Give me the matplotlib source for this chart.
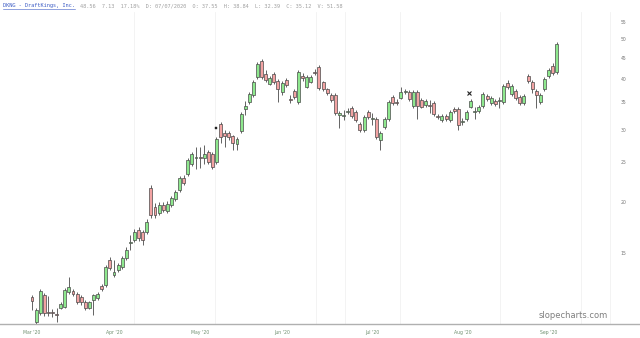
import matplotlib
matplotlib.use("Agg")
import matplotlib.pyplot as plt
from matplotlib.lines import Line2D
import numpy as np
import pandas as pd

# ---- data ----
opens = [11.74, 10.21, 10.73, 11.87, 10.79, 10.76, 10.64, 11.04, 11.10, 12.08,
         12.15, 11.94, 11.74, 11.42, 11.04, 11.55, 11.68, 12.49, 12.56, 14.45,
         13.29, 13.67, 13.90, 14.62, 15.90, 16.17, 17.10, 16.91, 16.91, 21.65,
         19.46, 18.82, 19.67, 19.02, 19.67, 20.35, 21.41, 22.90, 23.42, 24.77,
         25.62, 25.77, 25.62, 26.50, 26.20, 25.05, 31.00, 29.50, 29.48, 28.99,
         27.72, 29.82, 33.74, 35.09, 36.51, 40.39, 44.20, 41.08, 38.82, 41.08,
         39.49, 37.12, 39.72, 35.70, 37.33, 35.09, 40.60, 38.18, 39.27, 41.54,
         42.72, 39.27, 37.76, 36.51, 36.51, 32.63, 32.45, 33.20, 33.93, 33.18,
         31.00, 29.99, 33.18, 31.90, 31.90, 28.35, 30.50, 31.90, 36.09, 35.09,
         35.90, 37.12, 37.12, 34.31, 37.12, 35.49, 34.50, 34.50, 34.90, 32.45,
         31.70, 32.45, 31.70, 33.74, 33.74, 31.36, 31.90, 34.12, 33.18, 33.37,
         34.31, 36.30, 34.90, 35.29, 35.30, 35.09, 39.05, 36.71, 37.33, 36.09,
         34.90, 40.60, 39.27, 37.33, 35.09, 37.76, 40.60, 42.97, 41.54]
highs = [11.87, 11.03, 12.28, 12.01, 11.80, 10.97, 11.04, 11.42, 12.35, 13.14,
         12.28, 12.08, 11.87, 11.55, 11.49, 11.94, 12.08, 12.63, 14.05, 14.70,
         14.45, 14.21, 14.79, 15.55, 16.63, 17.20, 17.39, 17.10, 18.20, 22.00,
         19.90, 20.00, 20.00, 20.12, 20.70, 21.41, 23.16, 23.29, 25.63, 26.50,
         27.26, 27.26, 27.56, 26.80, 26.50, 28.83, 31.36, 30.00, 29.82, 29.15,
         28.83, 33.18, 35.29, 37.12, 39.72, 43.94, 44.69, 42.00, 40.60, 41.50,
         39.90, 39.50, 40.16, 36.51, 37.70, 41.90, 41.30, 40.80, 40.80, 42.20,
         43.20, 39.50, 38.00, 36.90, 36.90, 33.40, 33.55, 33.90, 34.30, 33.50,
         31.40, 32.60, 33.55, 33.00, 32.26, 29.82, 32.26, 35.50, 36.51, 35.70,
         38.18, 37.76, 37.50, 37.50, 37.50, 35.90, 35.70, 35.49, 35.30, 32.80,
         32.80, 32.80, 33.55, 34.10, 34.10, 32.10, 33.55, 35.70, 34.12, 34.50,
         37.10, 36.70, 36.30, 35.70, 36.09, 38.80, 39.72, 38.80, 37.70, 36.50,
         36.70, 41.00, 39.70, 37.70, 36.90, 40.40, 42.50, 43.70, 49.16]
lows = [10.91, 10.10, 10.61, 10.55, 10.55, 10.50, 10.21, 10.97, 11.04, 11.95,
        11.80, 11.29, 11.23, 10.91, 10.97, 10.61, 11.55, 12.15, 12.42, 13.67,
        13.14, 13.51, 13.75, 14.45, 15.29, 16.00, 16.08, 15.72, 16.72, 18.30,
        18.30, 18.61, 18.92, 18.82, 19.46, 20.12, 21.17, 22.00, 23.16, 24.50,
        24.09, 24.22, 24.77, 24.77, 24.09, 24.77, 27.87, 27.26, 28.35, 26.80,
        26.80, 29.48, 32.63, 34.70, 36.10, 40.00, 39.94, 39.27, 38.60, 38.80,
        35.09, 36.51, 38.18, 34.90, 35.70, 34.70, 39.50, 37.90, 39.00, 40.80,
        37.50, 37.30, 36.50, 35.10, 32.60, 30.33, 31.70, 32.80, 32.10, 31.40,
        29.65, 29.65, 31.90, 30.80, 28.50, 26.80, 30.16, 31.50, 34.50, 34.50,
        35.70, 36.70, 35.30, 34.00, 31.90, 33.90, 34.12, 33.00, 32.45, 31.90,
        31.40, 31.60, 31.40, 33.00, 29.99, 30.80, 31.50, 33.90, 31.90, 33.00,
        34.00, 35.30, 34.50, 34.30, 33.93, 34.70, 37.80, 36.30, 35.50, 34.50,
        34.50, 39.00, 36.90, 33.93, 34.70, 37.30, 40.20, 40.80, 41.10]
closes = [11.49, 10.91, 12.15, 10.73, 10.73, 10.73, 10.61, 11.29, 12.21, 12.42,
          11.94, 11.42, 11.42, 11.04, 11.42, 11.87, 11.94, 12.28, 13.90, 13.82,
          13.51, 14.05, 14.62, 15.29, 15.99, 16.91, 16.35, 16.17, 17.89, 18.61,
          18.61, 19.67, 19.13, 19.78, 20.46, 21.17, 22.90, 22.26, 25.34, 26.20,
          25.77, 25.62, 26.20, 25.05, 24.36, 28.51, 28.83, 28.99, 28.83, 27.87,
          28.51, 32.81, 34.31, 36.71, 39.27, 43.45, 40.39, 39.72, 40.16, 39.27,
          37.76, 39.05, 38.60, 35.49, 36.09, 41.54, 40.16, 40.39, 40.39, 41.30,
          37.97, 37.76, 36.92, 35.49, 33.00, 33.00, 32.63, 33.40, 32.45, 31.70,
          29.99, 32.26, 32.26, 32.08, 28.83, 29.48, 31.90, 35.09, 34.90, 34.90,
          37.12, 37.33, 35.70, 37.12, 34.31, 34.12, 35.29, 34.31, 32.81, 32.26,
          32.45, 31.90, 33.18, 33.37, 30.83, 31.53, 33.18, 35.29, 33.37, 34.12,
          36.71, 35.70, 35.90, 34.70, 35.49, 38.40, 38.18, 38.40, 35.90, 34.90,
          36.30, 39.50, 37.76, 36.51, 36.51, 39.94, 42.00, 41.30, 48.60]

holidays = ["2020-04-10", "2020-05-25", "2020-07-03"]
dates = pd.bdate_range("2020-03-04", periods=len(closes) + 3, freq="C",
                       holidays=holidays)[:len(closes)]

y_ticks = [15, 20, 25, 30, 35, 40, 45, 50, 55]
note_marks = [(44.8, 30.3, "s"), (106.7, 36.9, "x")]
vline_idx = [24.9, 44.6, 69.3, 76.3, 89.8, 114.1, 133.9, 141.0]

header_name = "DKNG - DraftKings, Inc."
header_rest = "48.56  7.13  17.18%  D: 07/07/2020  O: 37.55  H: 38.84  L: 32.39  C: 35.12  V: 51.58"

# ---- figure ----
fig = plt.figure(figsize=(6.4, 3.38), dpi=100)
ax = fig.add_axes([0, 14 / 338, 1, (324 - 12) / 338])
ax.set_yscale("log")

idx = np.arange(len(closes))
o = np.array(opens); h = np.array(highs); l = np.array(lows); c = np.array(closes)
up = c >= o
green = "#8ee88e"
pink = "#f2a3a3"
edge = "#4a4a4a"

for v in vline_idx:
    ax.axvline(v, color="#f1f1f1", lw=0.6, zorder=0)

ax.vlines(idx, l, h, color=edge, lw=0.6, zorder=1)
bottoms = np.minimum(o, c)
heights = np.maximum(np.abs(c - o), 0.02)
ax.bar(idx, heights, bottom=bottoms, width=0.72,
       color=np.where(up, green, pink), edgecolor=edge, linewidth=0.5, zorder=2)

for xm, ym, mk in note_marks:
    if mk == "s":
        ax.plot([xm], [ym], marker=mk, color="#222222", ms=1.5, mew=0.3, zorder=3)
    else:
        ax.plot([xm], [ym], marker=mk, color="#222222", ms=2.2, mew=0.8, zorder=3)

ax.set_xlim(-7.8, 148.3)
ax.set_ylim(10.08, 58.2)

# month ticks at first trading day of each month
month_pos = []
month_lab = []
prev = None
for i, d in enumerate(dates):
    if d.month != prev:
        month_pos.append(i)
        month_lab.append(d.strftime("%b '%y"))
        prev = d.month
ax.set_xticks(month_pos)
ax.set_xticklabels(month_lab, fontsize=3.3, color="#6f8f6f")
ax.tick_params(axis="x", length=0, pad=4)

ax.yaxis.tick_right()
ax.set_yticks(y_ticks)
ax.set_yticklabels([str(t) for t in y_ticks], fontsize=3.3, color="#777777")
ax.yaxis.set_minor_locator(matplotlib.ticker.NullLocator())
ax.tick_params(axis="y", length=0, pad=-14)

for s in ["top", "left", "right"]:
    ax.spines[s].set_visible(False)
ax.spines["bottom"].set_color("#b0b0b0")
ax.spines["bottom"].set_linewidth(1.0)

ax.text(0.949, 0.012, "slopecharts.com", transform=ax.transAxes, ha="right",
        va="bottom", fontsize=6, color="#7f7f7f")

# header
t1 = fig.text(3 / 640, 1 - 6 / 338, header_name, fontsize=3.8, color="#3b5bc4",
              family="DejaVu Sans Mono", va="center", ha="left")
fig.canvas.draw()
bb = t1.get_window_extent().transformed(fig.transFigure.inverted())
fig.add_artist(Line2D([bb.x0, bb.x1], [bb.y0 - 0.002, bb.y0 - 0.002],
                      color="#3b5bc4", lw=0.4, transform=fig.transFigure))
fig.text(bb.x1 + 5 / 640, 1 - 6 / 338, header_rest, fontsize=3.8, color="#a0a0a0",
         family="DejaVu Sans Mono", va="center", ha="left")

fig.savefig("out.png", dpi=100)
